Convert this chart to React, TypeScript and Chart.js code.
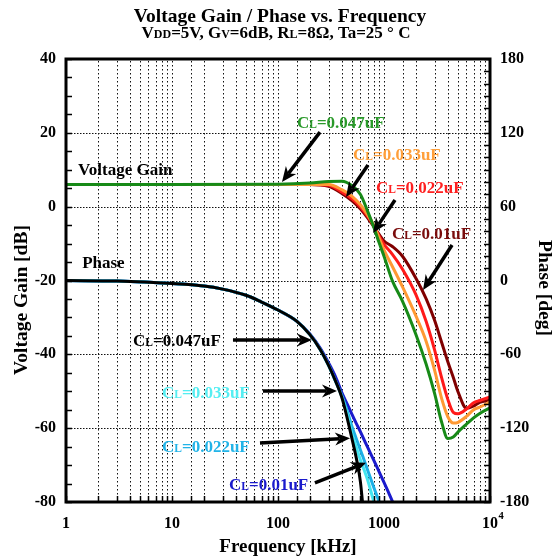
import React, { useEffect, useRef } from 'react';
import { Chart, registerables } from 'chart.js';

Chart.register(...registerables);

const FONT = '"Liberation Serif", "Times New Roman", Times, serif';

// ---------- data ----------
const gainFreq = [1, 10, 100, 200, 300, 400, 500, 600, 700, 800, 900, 1000, 1200, 1500, 2000, 2500, 3000, 3500, 4000, 4500, 5000, 6000, 7000, 8000, 10000];
const gain047 = [6, 6, 6.1, 6.4, 6.8, 6.9, 5.7, 3.3, -1.2, -5.5, -9.8, -13.4, -20.1, -25.7, -34.6, -42.7, -50.6, -58.4, -62.8, -62.4, -61.0, -58.9, -57.2, -56.0, -54.5];
const gain033 = [6, 6, 6, 6, 6.0, 4.6, 2.8, 0.5, -2.2, -5.0, -8.5, -11.7, -16.2, -21.8, -29.6, -36.5, -44.3, -52.0, -56.9, -58.6, -58.4, -56.8, -55.0, -54.3, -52.9];
const gain022 = [6, 6, 6, 6, 5.8, 4.0, 2.1, -0.1, -2.6, -5.2, -8.0, -10.2, -12.9, -17.0, -23.8, -31.1, -38.8, -46.4, -52.2, -55.7, -56.1, -54.8, -53.1, -52.5, -51.5];
const gain010 = [6, 6, 6, 6, 5.5, 3.6, 1.6, -0.6, -3.0, -5.4, -7.5, -9.3, -10.8, -13.5, -19.4, -25.0, -30.8, -36.8, -42.0, -46.2, -50.2, -54.6, -54.0, -53.0, -52.4];

const phaseFreq = [1, 3, 10, 20, 30, 50, 70, 100, 150, 200, 250, 300, 350, 400, 450, 500, 550, 600, 650, 700, 800, 900, 1000, 1100, 1200, 1300];
const phase047 = [0, -0.5, -2.5, -4.5, -7, -12, -17.5, -24, -33, -44, -56, -69, -82, -95, -112, -129, -145, -164, -195, null, null, null, null, null, null, null];
const phase033 = [0, -0.5, -2.5, -4.5, -7, -12, -17.5, -24, -33, -44, -56, -69, -82, -94.5, -109, -125, -136, -146, -154, -162, -179.5, -195, null, null, null, null];
const phase022 = [0, -0.5, -2.5, -4.5, -7, -12, -17.5, -24, -33, -44, -56, -69, -82, -93.5, -106, -119, -129, -138, -146, -154, -168, -180, -192, null, null, null];
const phase010 = [0, -0.5, -2.5, -4.5, -7, -12, -17.5, -24, -33, -43.5, -55, -67, -78.5, -91, -100.5, -109, -116.5, -123, -129.5, -135.5, -146, -155.5, -164, -172, -179.5, -186];

const capLabels = ['0.047uF', '0.033uF', '0.022uF', '0.01uF'];
const gainColors = ['#178a17', '#ff9933', '#ff1a1a', '#800000'];
const gainTextColors = ['#2a9a2a', '#ff9f3a', '#ff2020', '#7a0c0c'];
const phaseColors = ['#000000', '#44e6f0', '#1cb0e6', '#1a1acc'];
const phaseTextColors = ['#000000', '#55eef2', '#22b4e8', '#1a1acc'];

// annotation anchors in data units: [frequency kHz, left-axis dB]
const gainLabelAt = [[151, 21.3], [510, 12.6], [840, 3.7], [1189, -8.8]];
const gainArrowTail = [[249, 20.2], [706, 11.3], [1270, 1.8], [4385, -10.4]];
const gainArrowHead = [[109, 6.7], [438, 2.6], [788, -7.1], [2334, -22.6]];
const phaseLabelAt = [[4.29, -37.7], [8.05, -51.8], [8.05, -66.4], [34.5, -76.7]];
const phaseArrowTail = [[37.6, -36.1], [72.2, -49.9], [67.6, -64.0], [223, -74.8]];
const phaseArrowHead = [[209, -36.1], [360, -49.9], [478, -62.7], [676, -69.4]];
const gainTitleAt = [1.3, 8.6];
const phaseTitleAt = [1.42, -16.6];

const decadeLabels = [1, 10, 100, 1000, 10000];
const gainMajor = [-60, -40, -20, 0, 20];

type Part = { t: string; s: number };

function drawRich(ctx: CanvasRenderingContext2D, parts: Part[], x: number, y: number, align: 'left' | 'center', color: string) {
  let total = 0;
  const widths: number[] = [];
  for (const p of parts) {
    ctx.font = `bold ${p.s}px ${FONT}`;
    const w = ctx.measureText(p.t).width;
    widths.push(w);
    total += w;
  }
  let cx = align === 'center' ? x - total / 2 : x;
  ctx.fillStyle = color;
  ctx.textAlign = 'left';
  ctx.textBaseline = 'alphabetic';
  parts.forEach((p, i) => {
    ctx.font = `bold ${p.s}px ${FONT}`;
    ctx.fillText(p.t, cx, y);
    cx += widths[i];
  });
}

function drawArrow(ctx: CanvasRenderingContext2D, x1: number, y1: number, x2: number, y2: number) {
  const ang = Math.atan2(y2 - y1, x2 - x1);
  const dx = Math.cos(ang), dy = Math.sin(ang);
  const L = 15, W = 6.5, notch = 4.5;
  const bx = x2 - L * dx, by = y2 - L * dy;
  const nx = x2 - (L - notch) * dx, ny = y2 - (L - notch) * dy;
  ctx.strokeStyle = '#000';
  ctx.fillStyle = '#000';
  ctx.lineWidth = 3.5;
  ctx.lineCap = 'butt';
  ctx.setLineDash([]);
  ctx.beginPath();
  ctx.moveTo(x1, y1);
  ctx.lineTo(nx, ny);
  ctx.stroke();
  ctx.beginPath();
  ctx.moveTo(x2, y2);
  ctx.lineTo(bx - W * dy, by + W * dx);
  ctx.lineTo(nx, ny);
  ctx.lineTo(bx + W * dy, by - W * dx);
  ctx.closePath();
  ctx.fill();
}

const capParts = (v: string): Part[] => [
  { t: 'C', s: 17 },
  { t: 'L', s: 11.5 },
  { t: '=' + v, s: 17 },
];

function drawGrid(chart: any) {
  const { ctx, chartArea: a, scales } = chart;
  const xs = scales.x, ys = scales.y;
  ctx.save();
  ctx.fillStyle = '#111';
  const top = Math.round(a.top), bottom = Math.round(a.bottom);
  const left = Math.round(a.left), right = Math.round(a.right);
  // vertical dotted grid at every log tick
  xs.ticks.forEach((t: any) => {
    if (t.value <= 1 || t.value >= 10000) return;
    const x = Math.round(xs.getPixelForValue(t.value));
    for (let y = top + 2; y < bottom; y += 4) ctx.fillRect(x, y, 1, 1.5);
  });
  // horizontal dotted grid at major gain ticks
  gainMajor.forEach((v) => {
    const y = Math.round(ys.getPixelForValue(v));
    for (let x = left + 2; x < right; x += 3) ctx.fillRect(x, y, 1.5, 1);
  });
  ctx.restore();
}

const overlay = {
  id: 'overlay',
  beforeDatasetsDraw(chart: any) {
    drawGrid(chart);
  },
  afterDatasetsDraw(chart: any) {
    const { ctx, chartArea: a, scales } = chart;
    const xs = scales.x, ys = scales.y, y1 = scales.y1;
    const px = (f: number) => xs.getPixelForValue(f);
    const py = (v: number) => ys.getPixelForValue(v);
    ctx.save();
    ctx.setLineDash([]);

    // inward tick marks
    ctx.strokeStyle = '#000';
    ctx.lineWidth = 1.5;
    ctx.beginPath();
    xs.ticks.forEach((t: any) => {
      const x = Math.round(px(t.value)) + 0.5;
      ctx.moveTo(x, a.bottom);
      ctx.lineTo(x, a.bottom - 6);
    });
    ys.ticks.forEach((t: any) => {
      const y = Math.round(py(t.value)) + 0.5;
      ctx.moveTo(a.left, y);
      ctx.lineTo(a.left + 6, y);
    });
    y1.ticks.forEach((t: any) => {
      const y = Math.round(y1.getPixelForValue(t.value)) + 0.5;
      ctx.moveTo(a.right, y);
      ctx.lineTo(a.right - 6, y);
    });
    ctx.stroke();

    // frame
    ctx.lineWidth = 3;
    ctx.strokeRect(a.left, a.top, a.right - a.left, a.bottom - a.top);

    // arrows
    for (let i = 0; i < 4; i++) {
      drawArrow(ctx, px(gainArrowTail[i][0]), py(gainArrowTail[i][1]), px(gainArrowHead[i][0]), py(gainArrowHead[i][1]));
      drawArrow(ctx, px(phaseArrowTail[i][0]), py(phaseArrowTail[i][1]), px(phaseArrowHead[i][0]), py(phaseArrowHead[i][1]));
    }
    // labels
    for (let i = 0; i < 4; i++) {
      drawRich(ctx, capParts(capLabels[i]), px(gainLabelAt[i][0]), py(gainLabelAt[i][1]), 'left', gainTextColors[i]);
      drawRich(ctx, capParts(capLabels[i]), px(phaseLabelAt[i][0]), py(phaseLabelAt[i][1]), 'left', phaseTextColors[i]);
    }
    drawRich(ctx, [{ t: 'Voltage Gain', s: 17 }], px(gainTitleAt[0]), py(gainTitleAt[1]), 'left', '#000');
    drawRich(ctx, [{ t: 'Phase', s: 17 }], px(phaseTitleAt[0]), py(phaseTitleAt[1]), 'left', '#000');

    // superscript of the 10^4 tick label
    ctx.font = `bold 16px ${FONT}`;
    const w10 = ctx.measureText('10').width;
    drawRich(ctx, [{ t: '4', s: 10.5 }], px(10000) + w10 / 2 + 0.5, 519, 'left', '#000');

    // titles
    drawRich(ctx, [{ t: 'Voltage Gain / Phase vs. Frequency', s: 19.5 }], 280, 22, 'center', '#000');
    drawRich(ctx, [
      { t: 'V', s: 17 }, { t: 'DD', s: 12 }, { t: '=5V, G', s: 17 }, { t: 'V', s: 12 },
      { t: '=6dB, R', s: 17 }, { t: 'L', s: 12 }, { t: '=8\u03A9, Ta=25 \u00B0 C', s: 17 },
    ], 276, 38, 'center', '#000');

    // axis titles
    drawRich(ctx, [{ t: 'Frequency [kHz]', s: 19 }], 288, 552, 'center', '#000');
    ctx.save();
    ctx.translate(27, 300);
    ctx.rotate(-Math.PI / 2);
    drawRich(ctx, [{ t: 'Voltage Gain [dB]', s: 19.5 }], 0, 0, 'center', '#000');
    ctx.restore();
    ctx.save();
    ctx.translate(539, 288);
    ctx.rotate(Math.PI / 2);
    drawRich(ctx, [{ t: 'Phase [deg]', s: 19.5 }], 0, 0, 'center', '#000');
    ctx.restore();

    ctx.restore();
  },
};

const toPoints = (xs: number[], ys: (number | null)[]) =>
  xs.map((x, i) => ({ x, y: ys[i] })).filter((p) => p.y !== null) as { x: number; y: number }[];

export default function App() {
  const ref = useRef<HTMLCanvasElement | null>(null);

  useEffect(() => {
    if (!ref.current) return;
    const tickFont = { family: FONT, size: 16, weight: 'bold' as const };
    const gainSeries = [gain047, gain033, gain022, gain010];
    const phaseSeries = [phase047, phase033, phase022, phase010];
    const datasets: any[] = [];
    gainSeries.forEach((g, i) => {
      datasets.push({
        label: 'Gain ' + capLabels[i],
        data: toPoints(gainFreq, g),
        borderColor: gainColors[i],
        backgroundColor: gainColors[i],
        borderWidth: 3,
        pointRadius: 0,
        cubicInterpolationMode: 'monotone',
        yAxisID: 'y',
        clip: 0,
      });
    });
    phaseSeries.forEach((p, i) => {
      datasets.push({
        label: 'Phase ' + capLabels[i],
        data: toPoints(phaseFreq, p),
        borderColor: phaseColors[i],
        backgroundColor: phaseColors[i],
        borderWidth: 3,
        pointRadius: 0,
        cubicInterpolationMode: 'monotone',
        yAxisID: 'y1',
        clip: 0,
      });
    });
    const chart = new Chart(ref.current, {
      type: 'line',
      data: { datasets },
      options: {
        responsive: false,
        animation: false,
        layout: { padding: { top: 59, left: 0, right: 0, bottom: 0 } },
        plugins: {
          legend: { display: false },
          tooltip: { enabled: false },
          title: { display: false },
        },
        scales: {
          x: {
            type: 'logarithmic',
            position: 'bottom',
            min: 1,
            max: 10000,
            afterFit: (s: any) => { s.height = 58; },
            grid: { display: false, drawTicks: false },
            border: { display: false },
            ticks: {
              autoSkip: false,
              maxRotation: 0,
              minRotation: 0,
              padding: 12,
              color: '#000',
              font: tickFont,
              callback: (v: any) => {
                const n = Number(v);
                if (!decadeLabels.some((d) => Math.abs(d - n) < 1e-6)) return '';
                return n === 10000 ? '10' : String(n);
              },
            },
          },
          y: {
            position: 'left',
            min: -80,
            max: 40,
            afterFit: (s: any) => { s.width = 66; },
            grid: { display: false, drawTicks: false },
            border: { display: false },
            ticks: {
              stepSize: 5,
              autoSkip: false,
              padding: 10,
              color: '#000',
              font: tickFont,
              callback: (v: any) => (Number(v) % 20 === 0 ? String(v) : ''),
            },
          },
          y1: {
            position: 'right',
            min: -180,
            max: 180,
            afterFit: (s: any) => { s.width = 64; },
            grid: { display: false, drawOnChartArea: false, drawTicks: false },
            border: { display: false },
            ticks: {
              stepSize: 10,
              autoSkip: false,
              padding: 10,
              color: '#000',
              font: tickFont,
              callback: (v: any) => (Number(v) % 60 === 0 ? String(v) : ''),
            },
          },
        },
      } as any,
      plugins: [overlay],
    });
    return () => chart.destroy();
  }, []);

  return (
    <div style={{ position: 'fixed', left: 0, top: 0, width: 554, height: 560, background: '#fff' }}>
      <canvas ref={ref} width={554} height={560} style={{ display: 'block', width: 554, height: 560 }} />
    </div>
  );
}
